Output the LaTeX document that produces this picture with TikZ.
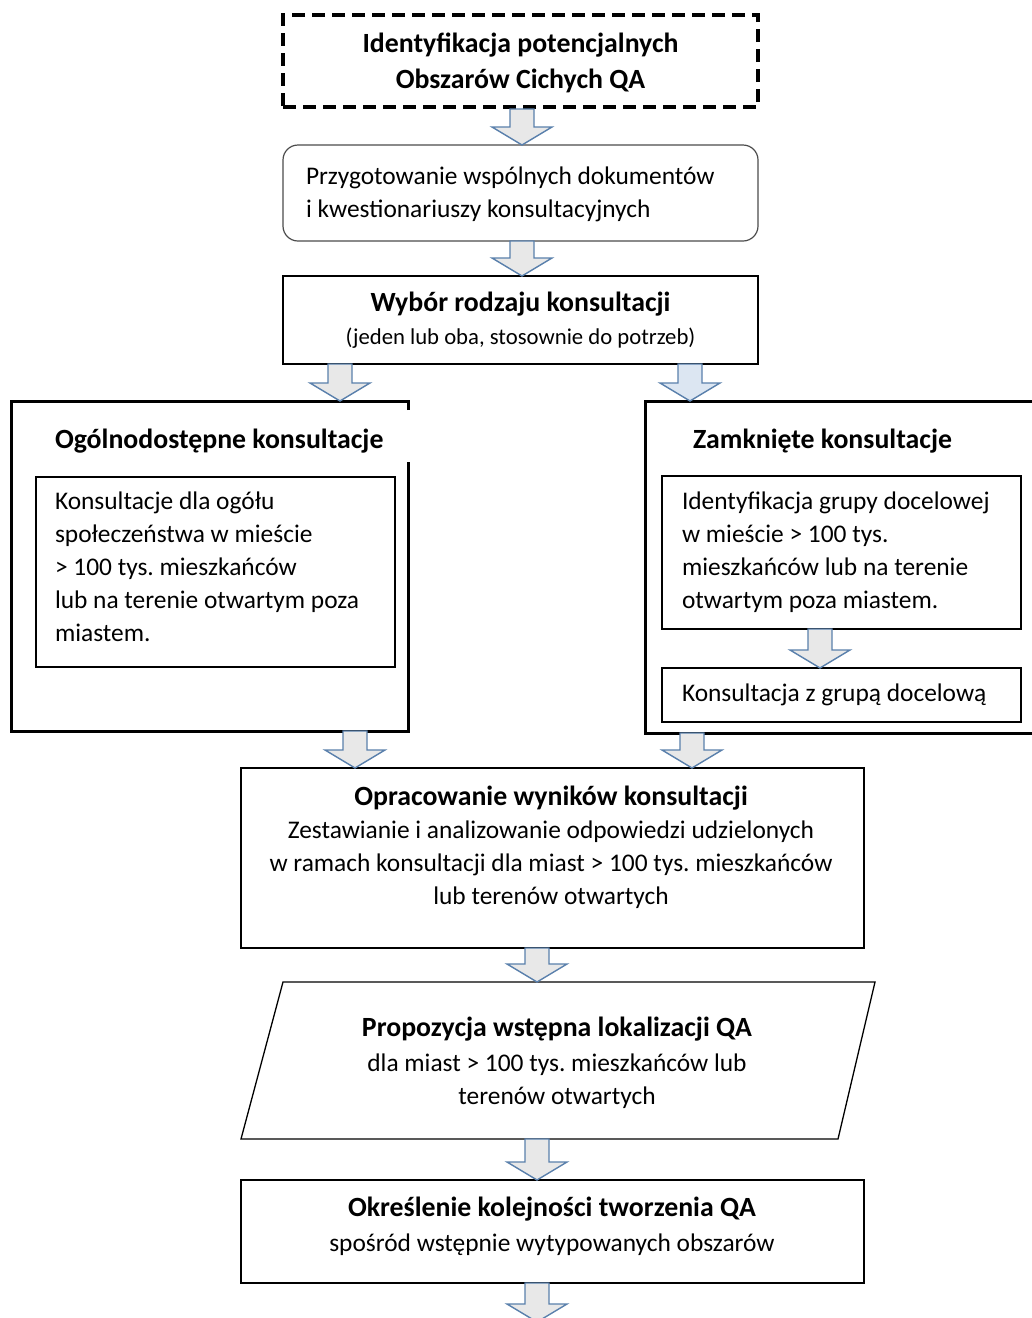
\documentclass[tikz,border=0pt]{standalone}
\usepackage{fontspec}
\setmainfont{Carlito}
\usetikzlibrary{calc}
\frenchspacing
\definecolor{arrline}{HTML}{5A80AC}
\definecolor{arrfill}{HTML}{E8E8E8}
\definecolor{arrblue}{HTML}{DCE6F2}
\newcommand\bodyf{\fontsize{25.4}{33}\selectfont}
\newcommand\titlef{\fontsize{27.8}{36}\selectfont\bfseries}
\newcommand\smallf{\fontsize{22.7}{33}\selectfont}
% block arrow: [fill] x, from anchor, to anchor
\newcommand\barrow[4][arrfill]{%
  \draw[draw=arrline, line width=1.4pt, fill=#1, line join=miter]
    let \p1=(#3), \p2=(#4) in
    ({#2pt-12pt},\y1) -- ({#2pt+12pt},\y1) -- ({#2pt+12pt},\y2+18pt) --
    ({#2pt+30pt},\y2+18pt) -- ({#2pt},\y2) -- ({#2pt-30pt},\y2+18pt) --
    ({#2pt-12pt},\y2+18pt) -- cycle;}
\tikzset{
  frame/.style={inner sep=0pt, outer sep=0pt},
  boxthin/.style={draw=black, line width=1.3pt, inner sep=0pt, outer sep=0pt},
  txt/.style={inner sep=0pt, outer sep=0pt, align=center, font=\bodyf},
  ttl/.style={inner sep=0pt, outer sep=0pt, font=\titlef},
}
\begin{document}
\begin{tikzpicture}[x=1pt,y=-1pt]
\useasboundingbox (0,0) rectangle (1032,1318);
\fill[white] (0,0) rectangle (1032,1318);

% top dashed box
\node[draw=black, line width=4pt, dash pattern=on 13pt off 7pt, inner sep=0pt,
      minimum width=475pt, minimum height=92pt] (idq) at (520.5,61) {};
\node[ttl, align=center, anchor=base] (idqt) at (520.5,88) {Identyfikacja potencjalnych\\Obszarów Cichych QA};

% preparation (rounded)
\node[draw=black!70, line width=1.2pt, rounded corners=15pt, inner sep=0pt, outer sep=0pt,
      minimum width=475pt, minimum height=96pt] (prep) at (520.5,193) {};
\node[txt, align=left, anchor=base west] (prept) at (306,217) {Przygotowanie wspólnych dokumentów\\i kwestionariuszy konsultacyjnych};

% choice
\node[boxthin, minimum width=475pt, minimum height=88pt] (wyb) at (520.5,320) {};
\node[ttl, anchor=base] (wybt) at (520.5,311) {Wybór rodzaju konsultacji};
\node[txt, font=\smallf, anchor=base] (wybs) at (520.5,344) {(jeden lub oba, stosownie do potrzeb)};

% public consultation frame
\node[frame, minimum width=397pt, minimum height=330pt] (pub) at (209.5,566) {};
\draw[line width=3pt, line join=miter]
  ($(pub.north east)+(0,9)$) -- (pub.north east) -- (pub.north west) --
  (pub.south west) -- (pub.south east) -- ($(pub.north east)+(0,61)$);
\node[ttl, anchor=base west] (pubt) at (55,448) {Ogólnodostępne konsultacje};
\node[boxthin, minimum width=359pt, minimum height=190pt] (pubin) at (215.5,572) {};
\node[txt, align=left, anchor=base west] (pubint) at (55,641)
  {Konsultacje dla ogółu\\społeczeństwa w mieście\\> 100 tys. mieszkańców\\lub na terenie otwartym poza\\miastem.};

% closed consultation frame
\node[frame, minimum width=395pt, minimum height=332pt] (clo) at (842.5,567) {};
\draw[line width=3pt, line join=miter]
  (clo.north east) -- (clo.north west) -- (clo.south west) -- (clo.south east);
\node[ttl, anchor=base west] (clot) at (693,448) {Zamknięte konsultacje};
\node[boxthin, minimum width=359pt, minimum height=153pt] (cloa) at (841.5,552.5) {};
\node[txt, align=left, anchor=base west] (cloat) at (682,608)
  {Identyfikacja grupy docelowej\\w mieście > 100 tys.\\mieszkańców lub na terenie\\otwartym poza miastem.};
\node[boxthin, minimum width=359pt, minimum height=54pt] (clob) at (841.5,695) {};
\node[txt, anchor=base west] (clobt) at (682,701) {Konsultacja z grupą docelową};

% results
\node[boxthin, minimum width=623pt, minimum height=180pt] (opr) at (552.5,858) {};
\node[ttl, anchor=base] (oprt) at (551,805) {Opracowanie wyników konsultacji};
\node[txt, anchor=base] (oprs) at (551,904)
  {Zestawianie i analizowanie odpowiedzi udzielonych\\w ramach konsultacji dla miast > 100 tys. mieszkańców\\lub terenów otwartych};

% proposal (parallelogram)
\node[frame, minimum width=595pt, minimum height=157pt] (par) at (559.5,1060.5) {};
\draw[line width=1.3pt, line join=miter]
  ($(par.north west)+(21,0)$) -- ($(par.north east)+(18,0)$) --
  ($(par.south east)+(-19,0)$) -- ($(par.south west)+(-21,0)$) -- cycle;
\node[ttl, anchor=base] (part) at (557,1036) {Propozycja wstępna lokalizacji QA};
\node[txt, anchor=base] (pars) at (557,1104) {dla miast > 100 tys. mieszkańców lub\\terenów otwartych};

% order
\node[boxthin, minimum width=623pt, minimum height=103pt] (ord) at (552.5,1231.5) {};
\node[ttl, anchor=base] (ordt) at (552,1216) {Określenie kolejności tworzenia QA};
\node[txt, anchor=base] (ords) at (552,1251) {spośród wstępnie wytypowanych obszarów};
\coordinate (tail) at (537,1322);

% block arrows
\barrow{522}{idq.south}{prep.north}
\barrow{522}{prep.south}{wyb.north}
\barrow{340}{wyb.south}{pub.north}
\barrow[arrblue]{690}{wyb.south}{clo.north}
\barrow{820}{cloa.south}{clob.north}
\barrow{355}{pub.south}{opr.north}
\barrow{692}{clo.south}{opr.north}
\barrow{537}{opr.south}{par.north}
\barrow{537}{par.south}{ord.north}
\barrow{537}{ord.south}{tail}
\end{tikzpicture}
\end{document}
